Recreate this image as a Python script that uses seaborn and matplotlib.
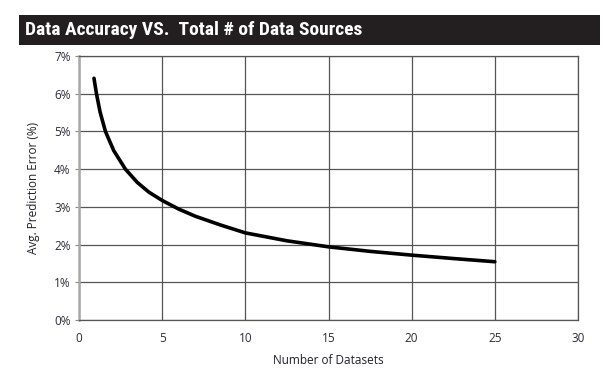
import matplotlib
matplotlib.use("Agg")
import matplotlib.pyplot as plt
from matplotlib.patches import Rectangle
from matplotlib.ticker import FuncFormatter
import pandas as pd
import seaborn as sns

# values
num_datasets = [0.9, 1.05, 1.27, 1.59, 2.09, 2.79, 3.5, 4.2, 5.0, 6.0, 7.0,
                8.5, 10.0, 12.5, 15.0, 17.5, 20.0, 22.5, 25.0]
pred_error = [6.41, 6.00, 5.51, 5.00, 4.49, 4.00, 3.65, 3.39, 3.17, 2.94, 2.75,
              2.52, 2.31, 2.10, 1.94, 1.82, 1.72, 1.63, 1.545]
x_ticks = [0, 5, 10, 15, 20, 25, 30]
y_ticks = [0, 1, 2, 3, 4, 5, 6, 7]

title = "Data Accuracy VS.  Total # of Data Sources"

df = pd.DataFrame({"datasets": num_datasets, "error": pred_error})

sns.set_theme(style="white")
plt.rcParams["font.family"] = ["Open Sans", "DejaVu Sans"]

fig = plt.figure(figsize=(6.16, 3.74), dpi=100)
ax = fig.add_axes([79 / 616, 1 - 320 / 374, (578 - 79) / 616, (320 - 56) / 374])

sns.lineplot(data=df, x="datasets", y="error", ax=ax, color="black", linewidth=2.6,
             solid_capstyle="round", solid_joinstyle="round")

ax.set_xlim(0, 30)
ax.set_ylim(0, 7)
ax.set_xticks(x_ticks)
ax.set_yticks(y_ticks)
ax.yaxis.set_major_formatter(FuncFormatter(lambda v, p: f"{int(v)}%"))
ax.grid(True, color="#555555", linewidth=0.9)
ax.set_axisbelow(True)

for side in ["top", "right", "bottom"]:
    ax.spines[side].set_color("#555555")
    ax.spines[side].set_linewidth(0.9)
ax.spines["left"].set_color("#a8a8a8")
ax.spines["left"].set_linewidth(1.8)

ax.tick_params(axis="both", labelsize=8.5, labelcolor="#2b2b3a", length=3,
               color="#888888", width=0.8, pad=3)
ax.tick_params(axis="y", left=True)
ax.tick_params(axis="x", bottom=False, pad=6)

ax.set_xlabel("Number of Datasets", fontsize=8.5, color="#1f1f2a", labelpad=6)
ax.set_ylabel("Avg. Prediction Error (%)", fontsize=8.5, color="#1f1f2a", labelpad=10)

# title bar
fig.patches.append(Rectangle((19 / 616, 1 - 45 / 374), (600 - 19) / 616, 30 / 374,
                             transform=fig.transFigure, facecolor="#231f20",
                             edgecolor="none"))
fig.text(25 / 616, 1 - 30 / 374, title, color="white", fontsize=14,
         fontweight="bold", va="center", ha="left",
         family=["Roboto Condensed", "Liberation Sans Narrow", "Roboto", "DejaVu Sans"])

fig.savefig("out.png", dpi=100, facecolor="white")
